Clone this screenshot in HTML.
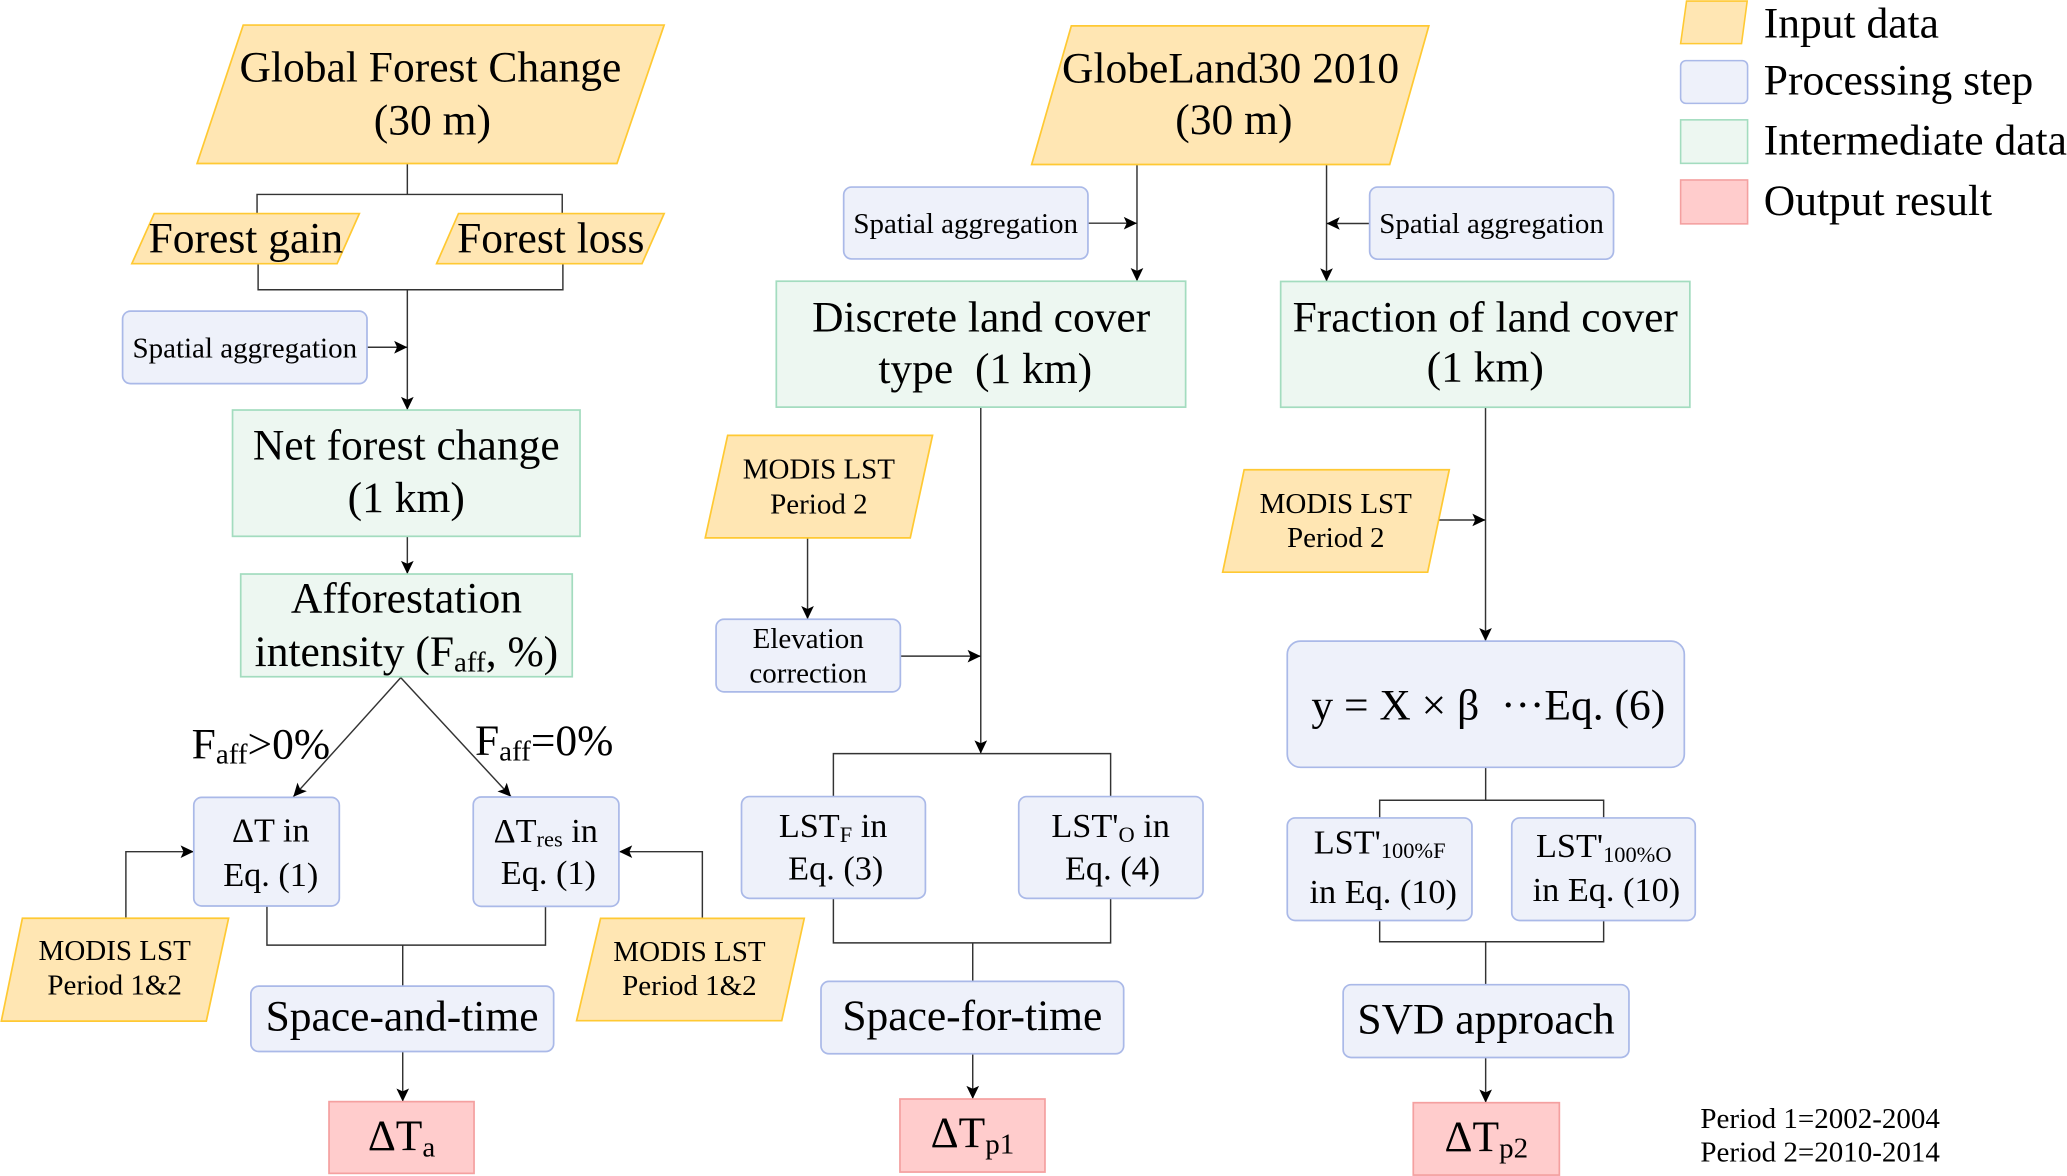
<!DOCTYPE html>
<html>
<head>
<meta charset="utf-8">
<style>
  html, body { margin: 0; padding: 0; background: #ffffff; }
  svg { display: block; }
  text { font-family: "Liberation Serif", "Times New Roman", serif; fill: #000; }
</style>
</head>
<body>
<svg width="2067" height="1176" viewBox="0 0 1568 892" preserveAspectRatio="none" xmlns="http://www.w3.org/2000/svg">
  <defs>
    <marker id="ah" viewBox="0 0 10 10" refX="10" refY="5" markerWidth="10.5" markerHeight="10" markerUnits="userSpaceOnUse" orient="auto">
      <path d="M0,0.2 L10,5 L0,9.8 L2.2,5 Z" fill="#000"/>
    </marker>
  </defs>

  <!-- ========== LEGEND ========== -->
  <polygon points="1279.4,0.8 1325.4,0.8 1321.1,33.1 1274.9,33.1" fill="#FFE6B3" stroke="#FFC933" stroke-width="1.2"/>
  <rect x="1274.9" y="46" width="50.8" height="32.4" rx="4" fill="#EEF1FA" stroke="#AAB9E8" stroke-width="1.2"/>
  <rect x="1274.9" y="90.9" width="50.8" height="33" fill="#EDF7F1" stroke="#A3DCBF" stroke-width="1.2"/>
  <rect x="1274.9" y="136.5" width="50.8" height="33.3" fill="#FFCCCC" stroke="#F4A0A0" stroke-width="1.2"/>
  <text x="1338" y="28.3" font-size="33">Input data</text>
  <text x="1338" y="71.7" font-size="33">Processing step</text>
  <text x="1338" y="117.3" font-size="33">Intermediate data</text>
  <text x="1338" y="162.9" font-size="33">Output result</text>

  <g stroke="#333" stroke-width="1.1" fill="none">
    <!-- Left column connectors -->
    <line x1="309" y1="124" x2="309" y2="147.5"/>
    <polyline points="195,162 195,147.5 426.5,147.5 426.5,162"/>
    <polyline points="195.8,200 195.8,219.8 427,219.8 427,200"/>
    <line x1="309" y1="219.8" x2="309" y2="311" marker-end="url(#ah)"/>
    <line x1="278.4" y1="263.4" x2="309" y2="263.4" marker-end="url(#ah)"/>
    <line x1="309" y1="406.8" x2="309" y2="435.4" marker-end="url(#ah)"/>
    <line x1="304" y1="514" x2="222.5" y2="604.3" marker-end="url(#ah)"/>
    <line x1="304" y1="514" x2="387.7" y2="604.3" marker-end="url(#ah)"/>
    <polyline points="95.5,696.5 95.5,646 147,646" marker-end="url(#ah)"/>
    <polyline points="532.8,696.6 532.8,646 469.6,646" marker-end="url(#ah)"/>
    <polyline points="202.5,687.2 202.5,716.9 413.8,716.9 413.8,687.5"/>
    <line x1="305.5" y1="716.9" x2="305.5" y2="748"/>
    <line x1="305.5" y1="797.6" x2="305.5" y2="835.6" marker-end="url(#ah)"/>

    <!-- Middle column connectors -->
    <line x1="862.5" y1="124.8" x2="862.5" y2="213.3" marker-end="url(#ah)"/>
    <line x1="825.3" y1="169.3" x2="862.5" y2="169.3" marker-end="url(#ah)"/>
    <line x1="744" y1="308.8" x2="744" y2="571.6" marker-end="url(#ah)"/>
    <line x1="612.6" y1="408" x2="612.6" y2="469.7" marker-end="url(#ah)"/>
    <line x1="683" y1="497.7" x2="744" y2="497.7" marker-end="url(#ah)"/>
    <polyline points="632.2,604.2 632.2,571.6 842.5,571.6 842.5,604.2"/>
    <polyline points="632.2,681.4 632.2,715.2 842.5,715.2 842.5,681.4"/>
    <line x1="737.9" y1="715.2" x2="737.9" y2="744.4"/>
    <line x1="737.9" y1="799.3" x2="737.9" y2="833.6" marker-end="url(#ah)"/>

    <!-- Right column connectors -->
    <line x1="1006.3" y1="124.8" x2="1006.3" y2="213.5" marker-end="url(#ah)"/>
    <line x1="1039" y1="169.5" x2="1006.3" y2="169.5" marker-end="url(#ah)"/>
    <line x1="1126.9" y1="308.9" x2="1126.9" y2="486.3" marker-end="url(#ah)"/>
    <line x1="1091.4" y1="394.4" x2="1126.9" y2="394.4" marker-end="url(#ah)"/>
    <line x1="1127" y1="582" x2="1127" y2="607"/>
    <polyline points="1046.6,620.4 1046.6,607 1216.5,607 1216.5,620.4"/>
    <polyline points="1046.6,698.2 1046.6,714.3 1216.5,714.3 1216.5,698.2"/>
    <line x1="1127" y1="714.3" x2="1127" y2="746.9"/>
    <line x1="1127" y1="802.1" x2="1127" y2="836.4" marker-end="url(#ah)"/>
  </g>

  <!-- ========== LEFT COLUMN ========== -->
  <polygon points="184.5,19 503.8,19 468,124 149.5,124" fill="#FFE6B3" stroke="#FFC933" stroke-width="1.3"/>
  <text x="326.5" y="62" font-size="33" text-anchor="middle">Global Forest Change</text>
  <text x="328" y="102" font-size="33" text-anchor="middle">(30 m)</text>

  <polygon points="117,162 272.6,162 255.7,200 100,200" fill="#FFE6B3" stroke="#FFC933" stroke-width="1.3"/>
  <text x="186.5" y="191.6" font-size="33" text-anchor="middle">Forest gain</text>
  <polygon points="347.8,162 503.8,162 487,200 331.2,200" fill="#FFE6B3" stroke="#FFC933" stroke-width="1.3"/>
  <text x="417.8" y="191.6" font-size="33" text-anchor="middle">Forest loss</text>

  <rect x="93" y="236" width="185.4" height="55" rx="6" fill="#EEF1FA" stroke="#AAB9E8" stroke-width="1.3"/>
  <text x="185.7" y="271" font-size="22" text-anchor="middle">Spatial aggregation</text>

  <rect x="176.4" y="311" width="263.6" height="95.8" fill="#EDF7F1" stroke="#A3DCBF" stroke-width="1.3"/>
  <text x="308.2" y="348.5" font-size="33" text-anchor="middle">Net forest change</text>
  <text x="308.2" y="388.4" font-size="33" text-anchor="middle">(1 km)</text>

  <rect x="182.6" y="435.4" width="251.5" height="77.9" fill="#EDF7F1" stroke="#A3DCBF" stroke-width="1.3"/>
  <text x="308.3" y="464.7" font-size="33" text-anchor="middle">Afforestation</text>
  <text x="308.3" y="505.2" font-size="33" text-anchor="middle">intensity (F<tspan font-size="22" dy="4">aff</tspan><tspan dy="-4">, %)</tspan></text>

  <text x="145.4" y="575.2" font-size="33">F<tspan font-size="22" dy="4">aff</tspan><tspan dy="-4">&gt;0%</tspan></text>
  <text x="360.3" y="572.7" font-size="33">F<tspan font-size="22" dy="4">aff</tspan><tspan dy="-4">=0%</tspan></text>

  <rect x="147" y="604.8" width="110.4" height="82.4" rx="6" fill="#EEF1FA" stroke="#AAB9E8" stroke-width="1.3"/>
  <text x="205.4" y="638.4" font-size="26" text-anchor="middle">ΔT in</text>
  <text x="205.4" y="672" font-size="26" text-anchor="middle">Eq. (1)</text>

  <rect x="359" y="604.5" width="110.5" height="83" rx="6" fill="#EEF1FA" stroke="#AAB9E8" stroke-width="1.3"/>
  <text x="414" y="638.5" font-size="26" text-anchor="middle">ΔT<tspan font-size="17" dy="3.5">res</tspan><tspan dy="-3.5"> in</tspan></text>
  <text x="416" y="670.6" font-size="26" text-anchor="middle">Eq. (1)</text>

  <polygon points="17,696.5 173.4,696.5 156.5,774.5 1,774.5" fill="#FFE6B3" stroke="#FFC933" stroke-width="1.3"/>
  <text x="87" y="728.3" font-size="22" text-anchor="middle">MODIS LST</text>
  <text x="87" y="754.3" font-size="22" text-anchor="middle">Period 1&amp;2</text>

  <polygon points="455.6,696.6 610.1,696.6 593,774.2 437.4,774.2" fill="#FFE6B3" stroke="#FFC933" stroke-width="1.3"/>
  <text x="523" y="729" font-size="22" text-anchor="middle">MODIS LST</text>
  <text x="523" y="754.7" font-size="22" text-anchor="middle">Period 1&amp;2</text>

  <rect x="190.3" y="748" width="229.7" height="49.6" rx="6" fill="#EEF1FA" stroke="#AAB9E8" stroke-width="1.3"/>
  <text x="305" y="781.6" font-size="33" text-anchor="middle">Space-and-time</text>

  <rect x="249.6" y="835.6" width="110" height="54.4" fill="#FFCCCC" stroke="#F4A0A0" stroke-width="1.3"/>
  <text x="304.6" y="872.3" font-size="33" text-anchor="middle">ΔT<tspan font-size="22" dy="5">a</tspan></text>

  <!-- ========== MIDDLE COLUMN ========== -->
  <polygon points="812.7,19.6 1083.9,19.6 1054.2,124.8 782.6,124.8" fill="#FFE6B3" stroke="#FFC933" stroke-width="1.3"/>
  <text x="933.5" y="62.6" font-size="33" text-anchor="middle">GlobeLand30 2010</text>
  <text x="936" y="101.6" font-size="33" text-anchor="middle">(30 m)</text>

  <rect x="640" y="141.9" width="185.3" height="54.5" rx="6" fill="#EEF1FA" stroke="#AAB9E8" stroke-width="1.3"/>
  <text x="732.6" y="176.8" font-size="22" text-anchor="middle">Spatial aggregation</text>

  <rect x="1039" y="141.9" width="185" height="54.7" rx="6" fill="#EEF1FA" stroke="#AAB9E8" stroke-width="1.3"/>
  <text x="1131.5" y="176.8" font-size="22" text-anchor="middle">Spatial aggregation</text>

  <rect x="588.9" y="213.3" width="310.5" height="95.5" fill="#EDF7F1" stroke="#A3DCBF" stroke-width="1.3"/>
  <text x="744.3" y="251.3" font-size="33" text-anchor="middle">Discrete land cover</text>
  <text x="747.4" y="290.5" font-size="33" text-anchor="middle" xml:space="preserve">type  (1 km)</text>

  <polygon points="552,330.2 707.4,330.2 690.5,408 535,408" fill="#FFE6B3" stroke="#FFC933" stroke-width="1.3"/>
  <text x="621.2" y="363" font-size="22" text-anchor="middle">MODIS LST</text>
  <text x="621.2" y="389.4" font-size="22" text-anchor="middle">Period 2</text>

  <rect x="543.2" y="469.7" width="139.8" height="55.1" rx="6" fill="#EEF1FA" stroke="#AAB9E8" stroke-width="1.3"/>
  <text x="613.1" y="491.5" font-size="22" text-anchor="middle">Elevation</text>
  <text x="613.1" y="517.8" font-size="22" text-anchor="middle">correction</text>

  <rect x="562.5" y="604.2" width="139.5" height="77.2" rx="6" fill="#EEF1FA" stroke="#AAB9E8" stroke-width="1.3"/>
  <text x="632" y="635" font-size="26" text-anchor="middle">LST<tspan font-size="17" dy="3.5">F</tspan><tspan dy="-3.5"> in</tspan></text>
  <text x="634" y="667" font-size="26" text-anchor="middle">Eq. (3)</text>

  <rect x="772.8" y="604.2" width="139.8" height="77.2" rx="6" fill="#EEF1FA" stroke="#AAB9E8" stroke-width="1.3"/>
  <text x="842.5" y="635" font-size="26" text-anchor="middle">LST'<tspan font-size="17" dy="3.5">O</tspan><tspan dy="-3.5"> in</tspan></text>
  <text x="844" y="667" font-size="26" text-anchor="middle">Eq. (4)</text>

  <rect x="622.8" y="744.4" width="229.6" height="54.9" rx="6" fill="#EEF1FA" stroke="#AAB9E8" stroke-width="1.3"/>
  <text x="737.6" y="781.2" font-size="33" text-anchor="middle">Space-for-time</text>

  <rect x="682.7" y="833.6" width="110" height="55.4" fill="#FFCCCC" stroke="#F4A0A0" stroke-width="1.3"/>
  <text x="737.7" y="870" font-size="33" text-anchor="middle">ΔT<tspan font-size="22" dy="5">p1</tspan></text>

  <!-- ========== RIGHT COLUMN ========== -->
  <rect x="971.5" y="213.5" width="310.4" height="95.4" fill="#EDF7F1" stroke="#A3DCBF" stroke-width="1.3"/>
  <text x="1126.7" y="251.6" font-size="33" text-anchor="middle">Fraction of land cover</text>
  <text x="1126.7" y="289.3" font-size="33" text-anchor="middle">(1 km)</text>

  <polygon points="943.8,356.3 1099.4,356.3 1083,434 927.5,434" fill="#FFE6B3" stroke="#FFC933" stroke-width="1.3"/>
  <text x="1013.3" y="389" font-size="22" text-anchor="middle">MODIS LST</text>
  <text x="1013.3" y="415.1" font-size="22" text-anchor="middle">Period 2</text>

  <rect x="976.5" y="486.3" width="301.2" height="95.7" rx="10" fill="#EEF1FA" stroke="#AAB9E8" stroke-width="1.3"/>
  <text x="1129" y="545.7" font-size="33" text-anchor="middle" xml:space="preserve">y = X × β  ···Eq. (6)</text>

  <rect x="976.5" y="620.4" width="140.1" height="77.8" rx="6" fill="#EEF1FA" stroke="#AAB9E8" stroke-width="1.3"/>
  <text x="1046.6" y="647.4" font-size="26" text-anchor="middle">LST'<tspan font-size="17" dy="3.5">100%F</tspan></text>
  <text x="1049.3" y="685" font-size="26" text-anchor="middle">in Eq. (10)</text>

  <rect x="1146.8" y="620.4" width="139.2" height="77.8" rx="6" fill="#EEF1FA" stroke="#AAB9E8" stroke-width="1.3"/>
  <text x="1216.6" y="650.2" font-size="26" text-anchor="middle">LST'<tspan font-size="17" dy="3.5">100%O</tspan></text>
  <text x="1218.6" y="683.6" font-size="26" text-anchor="middle">in Eq. (10)</text>

  <rect x="1018.9" y="746.9" width="216.8" height="55.2" rx="6" fill="#EEF1FA" stroke="#AAB9E8" stroke-width="1.3"/>
  <text x="1127.3" y="784" font-size="33" text-anchor="middle">SVD approach</text>

  <rect x="1072.1" y="836.4" width="110.8" height="54.9" fill="#FFCCCC" stroke="#F4A0A0" stroke-width="1.3"/>
  <text x="1127.5" y="873" font-size="33" text-anchor="middle">ΔT<tspan font-size="22" dy="5">p2</tspan></text>

  <text x="1289.9" y="855.6" font-size="22">Period 1=2002-2004</text>
  <text x="1289.9" y="880.9" font-size="22">Period 2=2010-2014</text>
</svg>
</body>
</html>
